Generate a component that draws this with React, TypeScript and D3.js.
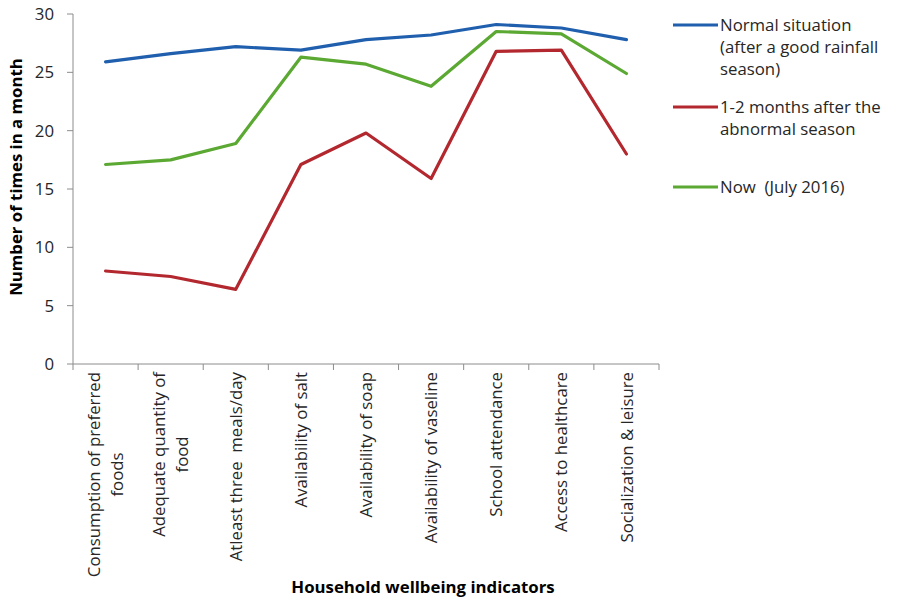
import React from "react";
import * as d3 from "d3";

const categories: string[][] = [
  ["Consumption of preferred", "foods"],
  ["Adequate quantity of", "food"],
  ["Atleast three\u00A0 meals/day"],
  ["Availability of salt"],
  ["Availability of soap"],
  ["Availability of vaseline"],
  ["School attendance"],
  ["Access to healthcare"],
  ["Socialization & leisure"],
];

const normalSituation = [25.9, 26.6, 27.2, 26.9, 27.8, 28.2, 29.1, 28.8, 27.8];
const afterAbnormal = [7.97, 7.5, 6.4, 17.1, 19.8, 15.9, 26.8, 26.9, 18.0];
const nowJuly2016 = [17.1, 17.5, 18.9, 26.3, 25.7, 23.8, 28.5, 28.3, 24.9];

const yTicks = [0, 5, 10, 15, 20, 25, 30];

const seriesNames: string[][] = [
  ["Normal situation", "(after a good rainfall", "season)"],
  ["1-2 months after the", "abnormal season"],
  ["Now\u00A0 (July 2016)"],
];
const seriesColors = ["#1F5FAE", "#B3282E", "#5BA833"];

const FONT = "'Open Sans', 'Noto Sans', sans-serif";
const FS = 16.8;

function measure(text: string): number {
  if (typeof document === "undefined") return text.length * FS * 0.5;
  const c = document.createElement("canvas");
  const ctx = c.getContext("2d");
  if (!ctx) return text.length * FS * 0.5;
  ctx.font = `${FS}px 'Open Sans'`;
  return ctx.measureText(text).width;
}

export default function App() {
  const width = 898;
  const height = 601;
  const left = 73;
  const right = 659;
  const top = 14;
  const bottom = 364;

  const x = d3
    .scaleBand<number>()
    .domain(categories.map((_, i) => i))
    .range([left, right])
    .padding(0);
  const y = d3.scaleLinear().domain([0, 30]).range([bottom, top]);

  const line = d3
    .line<number>()
    .x((_, i) => (x(i) as number) + x.bandwidth() / 2)
    .y((d) => y(d));

  const data = [normalSituation, afterAbnormal, nowJuly2016];
  const legendLineY = [25, 107, 187];
  const lh = 22;
  const axisColor = "#8c8c8c";
  const textColor = "#262626";

  const tickXs = categories.map((_, i) => x(i) as number).concat([right]);

  return (
    <svg
      width={width}
      height={height}
      style={{ position: "absolute", left: 0, top: 0, background: "#fff" }}
      fontFamily={FONT}
    >
      {/* y axis */}
      <line x1={left} x2={left} y1={top} y2={bottom} stroke={axisColor} strokeWidth={1} />
      {yTicks.map((t) => (
        <g key={t}>
          <line x1={left - 6} x2={left} y1={y(t)} y2={y(t)} stroke={axisColor} />
          <text
            x={left - 19}
            y={y(t)}
            dy="0.36em"
            textAnchor="end"
            fontSize={FS}
            fill={textColor}
          >
            {t}
          </text>
        </g>
      ))}
      {/* x axis */}
      <line x1={left} x2={right} y1={bottom} y2={bottom} stroke={axisColor} />
      {tickXs.map((tx, i) => (
        <line key={i} x1={tx} x2={tx} y1={bottom} y2={bottom + 6} stroke={axisColor} />
      ))}
      {categories.map((lines, i) => {
        const cx = (x(i) as number) + x.bandwidth() / 2;
        const n = lines.length;
        const blockW = Math.max(...lines.map(measure));
        const midY = bottom + 8 + blockW / 2;
        return lines.map((ln, j) => {
          const off = (j - (n - 1) / 2) * 23;
          const lx = cx + off;
          return (
            <text
              key={`${i}-${j}`}
              transform={`translate(${lx},${midY}) rotate(-90)`}
              textAnchor="middle"
              dy="0.36em"
              fontSize={FS}
              fill={textColor}
            >
              {ln}
            </text>
          );
        });
      })}
      {/* series */}
      {data.map((d, i) => (
        <path
          key={i}
          d={line(d) as string}
          fill="none"
          stroke={seriesColors[i]}
          strokeWidth={3.2}
          strokeLinejoin="round"
          strokeLinecap="round"
        />
      ))}
      {/* axis titles */}
      <text
        transform={`translate(22,177) rotate(-90)`}
        textAnchor="middle"
        fontSize={FS}
        fontWeight="bold"
        fill="#000"
      >
        Number of times in a month
      </text>
      <text x={423} y={593} textAnchor="middle" fontSize={FS} fontWeight="bold" fill="#000">
        Household wellbeing indicators
      </text>
      {/* legend */}
      {seriesNames.map((lines, i) => (
        <g key={i}>
          <line
            x1={673}
            x2={718}
            y1={legendLineY[i]}
            y2={legendLineY[i]}
            stroke={seriesColors[i]}
            strokeWidth={3.2}
          />
          {lines.map((ln, j) => (
            <text
              key={j}
              x={720}
              y={legendLineY[i] + j * lh}
              dy="0.36em"
              fontSize={FS}
              fill={textColor}
            >
              {ln}
            </text>
          ))}
        </g>
      ))}
    </svg>
  );
}
